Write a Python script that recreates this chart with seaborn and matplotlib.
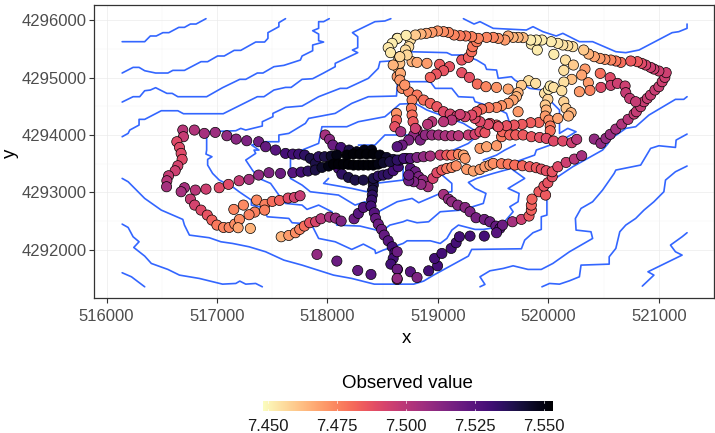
import numpy as np
import pandas as pd
import matplotlib
matplotlib.use("Agg")
import matplotlib.pyplot as plt
import seaborn as sns

# ---------- contour lines (easting, northing) ----------
c1_x = [516141,516345,516396,516450,516510,516564,516654,516705,516759,516810,516900]
c1_y = [4295623,4295623,4295722,4295722,4295780,4295780,4295872,4295872,4295930,4295930,4296023]
c2_x = [516141,516240,516294,516345,516444,516555,516600,516705,516855,516915,517005,517065,517155,517215,517350,517431,517461,517461,517560,517560,517620]
c2_y = [4295078,4295176,4295176,4295118,4295078,4295078,4295124,4295124,4295275,4295275,4295374,4295374,4295472,4295472,4295617,4295617,4295681,4295780,4295884,4295954,4296023]
c3_x = [516141,516240,516300,516345,516396,516444,516546,516594,516645,516906,517050,517206,517260,517365,517416,517515,517605,517755,517770,517866,517866,517965,517920,517920,517866,517920,517920,517965,518016]
c3_y = [4294573,4294666,4294666,4294770,4294782,4294823,4294724,4294724,4294666,4294666,4294823,4294968,4294968,4295078,4295078,4295188,4295211,4295304,4295374,4295466,4295565,4295617,4295640,4295756,4295814,4295855,4295971,4295971,4296023]
c4_x = [516141,516195,516210,516294,516294,516345,516495,516645,516696,517056,517365,517425,517515,517620,517671,517770,517866,517965,518070,518070,518274,518226,518274,518274,518226,518430,518520,518574]
c4_y = [4293970,4294028,4294086,4294173,4294272,4294272,4294422,4294422,4294370,4294370,4294666,4294666,4294782,4294828,4294828,4294968,4294979,4295078,4295188,4295246,4295432,4295478,4295519,4295710,4295780,4295971,4295983,4296023]
c5_x = [516141,516195,516240,516345,516495,516690,516705,516750,516930,517035,517140,517290,517440,517605,517770,518055,518220,518424,518631,518781,518871,518961,519276,519306,519756,519786,519861,519936,519936,519987,519987,520086,520221,520491,520542,520551,520701,520791,520911,521151,521226,521256]
c5_y = [4293245,4293187,4293100,4292897,4292694,4292532,4292433,4292259,4292213,4292143,4292114,4292056,4291969,4291824,4291737,4291563,4291505,4291406,4291406,4291406,4291459,4291563,4291894,4292010,4292021,4292172,4292300,4292358,4292578,4292607,4293129,4293274,4293448,4293738,4293854,4293912,4294115,4294144,4294347,4294620,4294620,4294666]
c6_x = [516141,516195,516240,516294,516246,516345,516405,516555,516660,516840,517050,517170,517206,517260,517350,517410]
c6_y = [4292450,4292392,4292230,4292143,4292044,4291894,4291766,4291662,4291563,4291505,4291406,4291418,4291459,4291406,4291418,4291360]
c7_x = [516141,516225,516345]
c7_y = [4291604,4291534,4291360]
c8_x = [519381,519426,519381,519471,519591,519681,519816,519936,520041,520191,520401,520386,520251,520245,520296,520401,520491,520596,520611,520836,520881,520926,521001,521151,521157,521256]
c8_y = [4291360,4291401,4291534,4291638,4291679,4291725,4291662,4291662,4291766,4291969,4292201,4292317,4292346,4292549,4292723,4292839,4293042,4293332,4293390,4293477,4293622,4293767,4293813,4293784,4293912,4294016]
c9_x = [519942,520011,520101,520191,520281,520296,520551,520551,520611,520647,520701,520791,520866,520956,521046,521061,521151,521256]
c9_y = [4291360,4291418,4291406,4291464,4291534,4291737,4291754,4291882,4292027,4292317,4292433,4292549,4292694,4292839,4293013,4293216,4293361,4293460]
c10_x = [520851,520956,520902,521211,521151,521106,521211,521256]
c10_y = [4291372,4291563,4291621,4291911,4291969,4292085,4292230,4292300]
c11_x = [519231,519327,519381,519501,519801,519861,519951,520071,520131,520281,520401,520611,520701,520821,521121,521181,521256,521256]
c11_y = [4296023,4295930,4295971,4295855,4295826,4295884,4295797,4295722,4295768,4295623,4295623,4295449,4295432,4295478,4295780,4295797,4295855,4295930]
c12_x = [518565,518475,518460,518370,518175,518115,517920,517770,517620,517506,517506,517410,517410,517260,517215,517170,516906,516906,516900,516954,516915,516915,516960,517020,517140,517200,517311,517311,517410,517455,517650,517680,517854,517920,518070,518220,518325,518430,518436,518505,518685,518721,518931,519021,519081,519126,519186,519336,519411,519531,519585,519681,519651,519726,519735,519636,519786,519681,519666,519876,519891,520101,520251,520176,520101,520101,520041,519951,519831,519696,519666,519546,519531,519441,519426,519351,519231,519126,519081,518736]
c12_y = [4295287,4295275,4295159,4294985,4294811,4294811,4294666,4294504,4294480,4294376,4294318,4294231,4294156,4294086,4294115,4294074,4294057,4293738,4293668,4293622,4293576,4293477,4293332,4293216,4293100,4293013,4292868,4292781,4292740,4292578,4292549,4292474,4292450,4292201,4292143,4292010,4292102,4291998,4291940,4291998,4292114,4292160,4292160,4292114,4292201,4292346,4292433,4292358,4292358,4292392,4292450,4292665,4292752,4292839,4292984,4293071,4293245,4293390,4293506,4293651,4293738,4293883,4294057,4294115,4294028,4294434,4294550,4294782,4294811,4294956,4295014,4294985,4295130,4295142,4295217,4295304,4295391,4295391,4295432,4295449]
c13_x = [519666,519501,519351,519276,519336,519435,519411,519216,519021,518916,518811,518721,518685,518565,518505,518445,518295,518085,518040,517920,517815,517770,517620,517560,517485,517380,517320,517290,517260,517350,517335,517380,517314,517410,517560,517560,517650,517800,517830,518070,518220,518370,518625,518634,518931,518976,519126,519186,519321,519336,519531,519621,519651,519666]
c13_y = [4293419,4293332,4293245,4293175,4293071,4292984,4292810,4292694,4292665,4292491,4292474,4292520,4292491,4292433,4292346,4292346,4292416,4292433,4292665,4292781,4292706,4292781,4292810,4292955,4293158,4293245,4293390,4293477,4293564,4293680,4293738,4293738,4293825,4293883,4293883,4294000,4294028,4294202,4294289,4294376,4294550,4294666,4294678,4294927,4294927,4294811,4294811,4294666,4294654,4294579,4294463,4294376,4294202,4294115]
c14_x = [519021,519126,519126,519021,518826,518766,518631,518460,518340,518250,518100,517845,517770,517665,517665,517770,517920,517950,518175,518280,518520,518610,518655,518796,518901,519231,519351,519441]
c14_y = [4293332,4293158,4293013,4292984,4292822,4292897,4292839,4292665,4292839,4292781,4292955,4293013,4293129,4293245,4293593,4293738,4293854,4294144,4294144,4294231,4294318,4294463,4294538,4294550,4294434,4294202,4294057,4294000]
c15_x = [518280,518430,518520,518730]
c15_y = [4293825,4293825,4294000,4294000]
c16_x = [518010,517965,518220,518355,518430,518685,518685]
c16_y = [4293245,4293158,4293071,4293013,4293158,4293216,4293448]
c17_x = [519141,519276,519381]
c17_y = [4293738,4293854,4294028]
c18_x = [519411,519531,519606,519700]
c18_y = [4293564,4293651,4293738,4293830]

contours = [(c1_x,c1_y),(c2_x,c2_y),(c3_x,c3_y),(c4_x,c4_y),(c5_x,c5_y),(c6_x,c6_y),(c7_x,c7_y),(c8_x,c8_y),(c9_x,c9_y),
            (c10_x,c10_y),(c11_x,c11_y),(c12_x,c12_y),(c13_x,c13_y),(c14_x,c14_y),(c15_x,c15_y),(c16_x,c16_y),(c17_x,c17_y),(c18_x,c18_y)]

# ---------- observations (easting, northing, observed value) ----------
t1_x = [516690,516696,516636,516660,516675,516684,516645,516621,516561,516546,516543]
t1_y = [4294086,4293970,4293883,4293784,4293680,4293576,4293465,4293378,4293291,4293204,4293100]
t1_v = [7.5,7.497,7.49,7.49,7.49,7.49,7.493,7.495,7.497,7.5,7.505]
t2_x = [516795,516885,516984,517089,517173,517269,517377,517440,517530,517620,517686,517740,517794,517845,517890]
t2_y = [4294086,4294028,4294045,4293987,4293929,4293900,4293883,4293796,4293738,4293680,4293668,4293668,4293651,4293593,4293506]
t2_v = [7.502,7.505,7.507,7.51,7.512,7.515,7.518,7.522,7.525,7.53,7.53,7.532,7.535,7.54,7.54]
t3_x = [517980,518019,518049,518121,518196,518265,518334,518400]
t3_y = [4294000,4293924,4293825,4293784,4293738,4293709,4293738,4293738]
t3_v = [7.505,7.512,7.52,7.53,7.54,7.548,7.55,7.55]
t4_x = [517920,517974,518034,518085,518175,518235,518295,518355,518415,518475,518535,518595,518655,518715]
t4_y = [4293622,4293622,4293634,4293651,4293651,4293668,4293668,4293668,4293668,4293651,4293610,4293576,4293564,4293593]
t4_v = [7.535,7.54,7.545,7.55,7.552,7.552,7.552,7.552,7.552,7.55,7.545,7.54,7.535,7.53]
t5_x = [518055,518100,518145,518190,518235,518280,518325,518370,518415,518460,518505,518565]
t5_y = [4293494,4293494,4293494,4293489,4293477,4293477,4293477,4293477,4293477,4293494,4293518,4293535]
t5_v = [7.552,7.552,7.552,7.552,7.552,7.552,7.552,7.552,7.552,7.55,7.545,7.54]
t6_x = [517377,517470,517575,517686,517761,517824,517890,517950,518010]
t6_y = [4293303,4293344,4293332,4293344,4293355,4293373,4293390,4293436,4293460]
t6_v = [7.51,7.515,7.52,7.525,7.53,7.535,7.54,7.545,7.55]
t7_x = [516705,516804,516900,517020,517104,517200,517290]
t7_y = [4293083,4293042,4293059,4293083,4293141,4293204,4293228]
t7_v = [7.505,7.5,7.495,7.49,7.49,7.497,7.505]
t8_x = [516675,516759,516798,516855,516912,516954,516999,517059,517110,517161,517203,517191,517302,517152,517239,517359,517434,517431,517341,517290,517500,517566,517644,517701,517752]
t8_y = [4293013,4292885,4292781,4292694,4292607,4292520,4292433,4292392,4292392,4292450,4292532,4292387,4292375,4292706,4292781,4292868,4292793,4292694,4292659,4292613,4292845,4292862,4292903,4292914,4292943]
t8_v = [7.505,7.497,7.493,7.49,7.487,7.483,7.478,7.475,7.475,7.473,7.473,7.468,7.465,7.475,7.474,7.474,7.476,7.476,7.476,7.476,7.48,7.483,7.49,7.493,7.497]
t9_x = [517581,517650,517710,517749,517791,517839,517893,517941,518019,518073,518124]
t9_y = [4292230,4292253,4292300,4292358,4292416,4292474,4292491,4292543,4292572,4292555,4292503]
t9_v = [7.465,7.47,7.473,7.476,7.48,7.487,7.492,7.5,7.505,7.51,7.515]
t10_x = [518415,518415,518409,518406,518400,518394,518424,518436,518460,518490,518514,518550,518586,518610,518595,518574,518634,518631]
t10_y = [4293204,4293129,4293042,4292955,4292868,4292764,4292648,4292549,4292450,4292358,4292259,4292160,4292056,4291952,4291853,4291754,4291662,4291488]
t10_v = [7.545,7.54,7.54,7.535,7.533,7.53,7.525,7.522,7.52,7.52,7.522,7.525,7.53,7.53,7.53,7.53,7.525,7.51]
t11_x = [517905,518085,518274,518394]
t11_y = [4291923,4291807,4291644,4291575]
t11_v = [7.51,7.52,7.522,7.525]
t12_x = [518241,518280,518325]
t12_y = [4292543,4292636,4292740]
t12_v = [7.52,7.525,7.525]
t13_x = [518100,518130,518190,518250,518325,518415,518460,518505,518550,518595,518640]
t13_y = [4293419,4293320,4293262,4293216,4293216,4293245,4293286,4293303,4293320,4293378,4293448]
t13_v = [7.53,7.535,7.54,7.54,7.54,7.54,7.535,7.535,7.535,7.53,7.53]
t14_x = [518631,518691,518751,518811,518871,518931,519021,519081,519126,519186,519231]
t14_y = [4293564,4293593,4293593,4293610,4293622,4293634,4293651,4293651,4293651,4293663,4293651]
t14_v = [7.535,7.53,7.525,7.515,7.51,7.505,7.495,7.485,7.48,7.475,7.468]
t15_x = [518751,518796,518826,518865,518910,518847,518781,518736,518736]
t15_y = [4293419,4293361,4293274,4293216,4293100,4293141,4293187,4293204,4293303]
t15_v = [7.525,7.52,7.515,7.51,7.505,7.51,7.515,7.52,7.52]
t16_x = [518955,518991,519036,519081,519126,519165,519246,519261,519321,519381,519426,519471,519501,519576,519636,519696,519765,519831,519891,519936,519981,520035,520086,520161,520236,520302]
t16_y = [4293245,4293344,4293390,4293419,4293436,4293465,4293593,4293402,4293373,4293402,4293448,4293477,4293506,4293500,4293494,4293477,4293465,4293448,4293431,4293407,4293378,4293361,4293448,4293523,4293581,4293639]
t16_v = [7.493,7.49,7.485,7.478,7.475,7.473,7.47,7.47,7.468,7.47,7.47,7.47,7.473,7.477,7.478,7.48,7.482,7.485,7.485,7.487,7.488,7.487,7.49,7.495,7.5,7.505]
t17_x = [519381,519441,519531,519576,519585,519531,519471]
t17_y = [4293767,4293796,4293813,4293970,4294057,4294173,4294202]
t17_v = [7.47,7.468,7.47,7.478,7.482,7.485,7.488]
t18_x = [519651,519705,519771,519846,519921,519981,520047,520131,520212,520257,520416,520476,520521,520560,520611,520665,520722,520776,520797,520836,520866,520896,520926,520965,521001,521031,521055,521067]
t18_y = [4294000,4294000,4294000,4293970,4293958,4293941,4293895,4293895,4293866,4293924,4293929,4293854,4293941,4294011,4294103,4294190,4294272,4294364,4294405,4294492,4294579,4294637,4294695,4294782,4294840,4294927,4295002,4295084]
t18_v = [7.483,7.484,7.485,7.486,7.488,7.49,7.49,7.49,7.495,7.5,7.51,7.51,7.51,7.508,7.505,7.502,7.5,7.497,7.497,7.497,7.496,7.496,7.496,7.496,7.496,7.495,7.495,7.495]
t19_x = [521001,520956,520926,520881,520845,520806,520746,520656,520611,520566,520512,520467,520416,520365,520320,520221,520176,520131,520086,520026,519942,519891,519840,519771,519726,519681,519636,519606,519546,519501,519441,519366,519306,519252,519201,519147,519096,519051,518997,518946,518895,518847,518796,518712]
t19_y = [4295113,4295147,4295176,4295217,4295246,4295275,4295287,4295263,4295287,4295304,4295316,4295333,4295362,4295408,4295478,4295536,4295553,4295565,4295594,4295623,4295652,4295652,4295652,4295693,4295698,4295698,4295722,4295652,4295681,4295698,4295698,4295681,4295710,4295722,4295727,4295739,4295785,4295797,4295809,4295785,4295768,4295756,4295739,4295733]
t19_v = [7.495,7.495,7.495,7.493,7.49,7.485,7.485,7.48,7.478,7.475,7.472,7.47,7.468,7.465,7.46,7.455,7.455,7.454,7.453,7.452,7.452,7.452,7.452,7.463,7.465,7.465,7.467,7.47,7.472,7.475,7.475,7.475,7.476,7.477,7.477,7.475,7.474,7.473,7.472,7.47,7.468,7.465,7.46,7.452]
t20_x = [519846,519900,520050,520155,520227,520140,520332,520302,520470,520212,520140,520362,520377,520476,520560,520566,520626,520695,520701,520737,520791,520281,520122,520140,520161,520206,520182,520086]
t20_y = [4295582,4295478,4295403,4295304,4295217,4295124,4295147,4295043,4295072,4294968,4294921,4294910,4294776,4294828,4294997,4294863,4294898,4294852,4294736,4294637,4294579,4294753,4294770,4294579,4294463,4294388,4294330,4294289]
t20_v = [7.452,7.452,7.452,7.455,7.46,7.455,7.47,7.468,7.48,7.462,7.455,7.47,7.475,7.49,7.49,7.495,7.495,7.495,7.497,7.497,7.497,7.47,7.455,7.458,7.46,7.465,7.465,7.468]
t21_x = [519216,519285,519357,519435,519531,519636,519726]
t21_y = [4295084,4295002,4294886,4294840,4294828,4294799,4294405]
t21_v = [7.488,7.488,7.48,7.475,7.472,7.468,7.47]
t22_x = [519822,519885,519756,519726,519711,519681,519636,519576,519531,519462,519396,519351,519306,519246,519201,519126,519051,518946,518907]
t22_y = [4294944,4294898,4294863,4294736,4294666,4294608,4294550,4294509,4294480,4294475,4294451,4294405,4294347,4294318,4294359,4294260,4294231,4294231,4294185]
t22_v = [7.455,7.455,7.46,7.465,7.465,7.468,7.47,7.472,7.475,7.478,7.48,7.485,7.49,7.493,7.495,7.5,7.5,7.5,7.5]
t23_x = [519966,520002,520017,520047,519996,519972,519981,519972,520005,520017,520017]
t23_y = [4294724,4294794,4294852,4294828,4294620,4294521,4294434,4294330,4294260,4294156,4294074]
t23_v = [7.455,7.452,7.452,7.455,7.458,7.46,7.465,7.47,7.473,7.478,7.48]
t24_x = [519915,519840,519762,519690,519621,519546,519456,519381,519336]
t24_y = [4294219,4294214,4294185,4294173,4294161,4294144,4294185,4294231,4294289]
t24_v = [7.482,7.484,7.485,7.486,7.487,7.488,7.49,7.49,7.49]
t25_x = [518631,518646,518640,518631,518676,518736,518811,518871,518931,518991,519051,519111,519171]
t25_y = [4295681,4295333,4295159,4295014,4294811,4294753,4294695,4294608,4294550,4294492,4294405,4294364,4294330]
t25_v = [7.452,7.456,7.462,7.47,7.473,7.476,7.478,7.48,7.483,7.486,7.49,7.492,7.495]
t26_x = [518751,518736,518706,518721,518655]
t26_y = [4295652,4295536,4295478,4295391,4295362]
t26_v = [7.455,7.456,7.456,7.457,7.457]
t27_x = [518634,518586,518550,518571,518655,518655,518595,518661,518655,518700]
t27_y = [4295681,4295594,4295519,4295432,4295362,4295246,4295217,4295072,4294956,4294869]
t27_v = [7.452,7.452,7.453,7.453,7.458,7.462,7.465,7.467,7.47,7.472]
t28_x = [518625,518625,518610,518664]
t28_y = [4294376,4294260,4294144,4294057]
t28_v = [7.472,7.482,7.488,7.505]
t29_x = [518766,518811,518901]
t29_y = [4295275,4295263,4295246]
t29_v = [7.465,7.467,7.47]
t30_x = [519015,519105,519051,518985,518931]
t30_y = [4295229,4295188,4295118,4295060,4295002]
t30_v = [7.485,7.487,7.487,7.486,7.483]
t31_x = [519216,519276,519306,519315,519351]
t31_y = [4295304,4295350,4295449,4295536,4295623]
t31_v = [7.486,7.484,7.48,7.478,7.477]
t32_x = [518766,518760,518766,518775,518796]
t32_y = [4294608,4294463,4294347,4294231,4294115]
t32_v = [7.475,7.477,7.48,7.485,7.495]
t33_x = [518811,518781,518736,518676,518631]
t33_y = [4294086,4294000,4293912,4293825,4293796]
t33_v = [7.505,7.51,7.515,7.52,7.525]
t34_x = [518841,518886,518946,519006,519066,519126,519186,519276,519336,519381,519426]
t34_y = [4293912,4294000,4294000,4294000,4293987,4293987,4293987,4294000,4294011,4294057,4294040]
t34_v = [7.515,7.51,7.508,7.506,7.504,7.502,7.5,7.497,7.493,7.49,7.487]
t35_x = [519051,519096,519126,519180,519246,519291,519345,519420,519471,519525,519561,519585,519531]
t35_y = [4292967,4292885,4292839,4292781,4292740,4292665,4292561,4292532,4292491,4292416,4292375,4292433,4292300]
t35_v = [7.505,7.51,7.51,7.512,7.512,7.515,7.517,7.518,7.52,7.522,7.525,7.52,7.525]
t36_x = [519675,519756,519825,519846,519846,519852,519915,519975,519960,519996,520035]
t36_y = [4292491,4292532,4292590,4292694,4292781,4292885,4293013,4292955,4293112,4293170,4293274]
t36_v = [7.505,7.495,7.485,7.483,7.483,7.483,7.485,7.485,7.487,7.487,7.488]
t37_x = [518751,518811,518916,518997,518970,519036,519120,519165,519195,519291,519420,518631,518631,518631]
t37_y = [4291621,4291522,4291638,4291725,4291853,4291940,4292027,4292126,4292230,4292242,4292242,4291969,4291667,4291505]
t37_v = [7.525,7.515,7.53,7.53,7.53,7.53,7.53,7.53,7.53,7.53,7.53,7.52,7.52,7.51]

tracks = [(t1_x,t1_y,t1_v),(t2_x,t2_y,t2_v),(t3_x,t3_y,t3_v),(t7_x,t7_y,t7_v),(t8_x,t8_y,t8_v),(t9_x,t9_y,t9_v),
          (t11_x,t11_y,t11_v),(t12_x,t12_y,t12_v),(t10_x,t10_y,t10_v),(t13_x,t13_y,t13_v),(t6_x,t6_y,t6_v),(t4_x,t4_y,t4_v),(t5_x,t5_y,t5_v),
          (t15_x,t15_y,t15_v),(t14_x,t14_y,t14_v),(t35_x,t35_y,t35_v),(t37_x,t37_y,t37_v),(t36_x,t36_y,t36_v),(t16_x,t16_y,t16_v),(t17_x,t17_y,t17_v),
          (t33_x,t33_y,t33_v),(t34_x,t34_y,t34_v),(t25_x,t25_y,t25_v),(t32_x,t32_y,t32_v),(t28_x,t28_y,t28_v),(t24_x,t24_y,t24_v),(t22_x,t22_y,t22_v),(t23_x,t23_y,t23_v),
          (t18_x,t18_y,t18_v),(t21_x,t21_y,t21_v),(t20_x,t20_y,t20_v),(t30_x,t30_y,t30_v),(t29_x,t29_y,t29_v),(t31_x,t31_y,t31_v),
          (t27_x,t27_y,t27_v),(t26_x,t26_y,t26_v),(t19_x,t19_y,t19_v)]

x_ticks = [516000,517000,518000,519000,520000,521000]
y_ticks = [4292000,4293000,4294000,4295000,4296000]
bar_ticks = [7.45,7.475,7.5,7.525,7.55]
v_min, v_max = 7.4482, 7.5533

line_df = pd.concat([pd.DataFrame({"x":a,"y":b,"level":i}) for i,(a,b) in enumerate(contours)], ignore_index=True)
pt_df = pd.concat([pd.DataFrame({"x":a,"y":b,"v":c}) for a,b,c in tracks], ignore_index=True)

sns.set_theme(style="white")
plt.rcParams["font.family"] = ["Liberation Sans", "DejaVu Sans"]

W, H = 715, 433
fig = plt.figure(figsize=(W/100, H/100), dpi=100)
ax = fig.add_axes([94/W, (H-298)/H, (714-94)/W, (298-5)/H])

sns.lineplot(data=line_df, x="x", y="y", units="level", estimator=None, sort=False,
             color="#3366FF", linewidth=1.2, ax=ax, legend=False, zorder=2)
cmap = "magma_r"
sns.scatterplot(data=pt_df, x="x", y="y", hue="v", palette=cmap, hue_norm=(v_min, v_max),
                edgecolor="black", linewidth=0.5, s=54, ax=ax, legend=False, zorder=3)

ax.set_xlim(515886, 521447)
ax.set_ylim(4291165, 4296261)
ax.set_xticks(x_ticks)
ax.set_yticks(y_ticks)
ax.set_xticks([t+500 for t in x_ticks], minor=True)
ax.set_yticks([t+500 for t in y_ticks[:-1]], minor=True)
ax.grid(True, which="major", color="#EBEBEB", lw=0.5, zorder=0)
ax.grid(True, which="minor", color="#F2F2F2", lw=0.3, zorder=0)
ax.set_axisbelow(True)
ax.tick_params(axis="both", which="major", length=3.5, width=0.8, color="#333333",
               labelcolor="#4D4D4D", labelsize=12, pad=2, bottom=True, left=True)
ax.tick_params(axis="x", which="major", pad=4.5)
ax.tick_params(axis="both", which="minor", length=0)
ax.ticklabel_format(useOffset=False, style="plain")
ax.set_xlabel("x", fontsize=13.5, color="black")
ax.xaxis.set_label_coords((406-94)/620, -0.108)
ax.set_ylabel("y", fontsize=13.5, color="black")
ax.yaxis.set_label_coords((19-94)/620, 0.495)
for s in ax.spines.values():
    s.set_color("#333333"); s.set_linewidth(0.9)

# colour bar
cax = fig.add_axes([263/W, (H-411)/H, (553-263)/W, 10/H])
grad = np.linspace(v_min, v_max, 256).reshape(1, -1)
cax.imshow(grad, aspect="auto", cmap=cmap, vmin=v_min, vmax=v_max, extent=[v_min, v_max, 0, 1])
cax.set_yticks([])
cax.set_xticks(bar_ticks)
cax.set_xticklabels([f"{t:.3f}" for t in bar_ticks])
cax.tick_params(axis="x", length=0, labelsize=12, labelcolor="#1a1a1a", pad=6)
for t in bar_ticks:
    cax.plot([t, t], [0, 0.2], color="white", lw=0.5)
    cax.plot([t, t], [0.8, 1], color="white", lw=0.5)
cax.set_xlim(v_min, v_max); cax.set_ylim(0, 1)
for s in cax.spines.values():
    s.set_visible(False)
fig.text(407/W, (H-384)/H, "Observed value", ha="center", va="center", fontsize=13.5, color="black")

fig.savefig("out.png", dpi=100, facecolor="white")
